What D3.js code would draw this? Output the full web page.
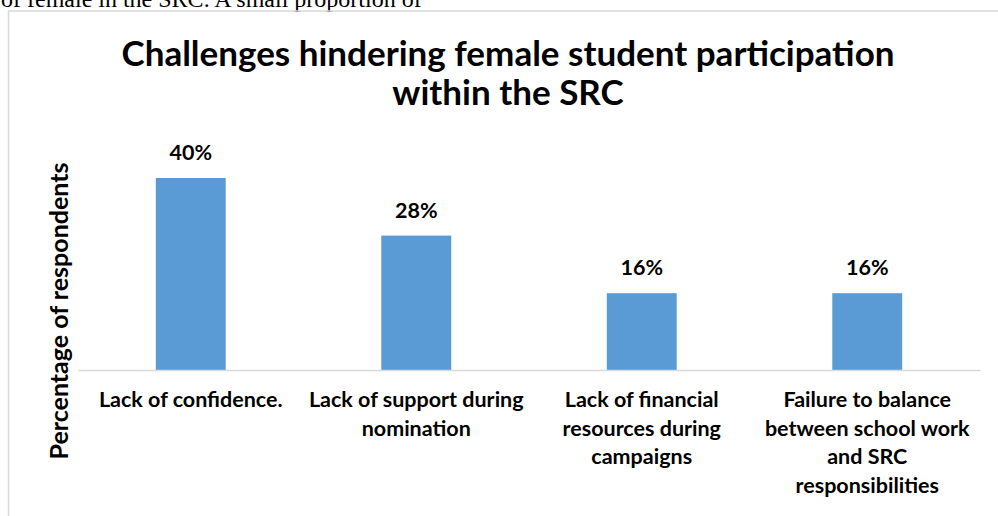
<!DOCTYPE html>
<html>
<head>
<meta charset="utf-8">
<script src="https://cdn.jsdelivr.net/npm/d3@7"></script>
<style>
  html, body { margin: 0; padding: 0; background: #fff; }
  svg { display: block; }
</style>
</head>
<body>
<svg id="chart" width="998" height="516"></svg>
<script>
// Survey results: challenges hindering female participation in the SRC
const categories = [
  "Lack of confidence.",
  "Lack of support during nomination",
  "Lack of financial resources during campaigns",
  "Failure to balance between school work and SRC responsibilities"
];
const categoryLines = [
  ["Lack of confidence."],
  ["Lack of support during", "nomination"],
  ["Lack of financial", "resources during", "campaigns"],
  ["Failure to balance", "between school work", "and SRC", "responsibilities"]
];
const shares = [0.40, 0.28, 0.16, 0.16];
const titleLines = ["Challenges hindering female student participation", "within the SRC"];
const yAxisTitle = "Percentage of respondents";
const bodyText = "of female in the SRC. A small proportion of";

const svg = d3.select("#chart");
const font = "Lato, 'Open Sans', sans-serif";

// running text of the page above the chart frame
svg.append("text")
  .attr("x", 1).attr("y", 7)
  .attr("font-family", "'Liberation Serif', 'Times New Roman', serif")
  .attr("font-size", 24)
  .attr("fill", "#000")
  .text(bodyText);

// chart frame (continues past the right and bottom edges)
svg.append("path")
  .attr("d", "M8.5,520 L8.5,11 L1000,11")
  .attr("fill", "none")
  .attr("stroke", "#d9d9d9")
  .attr("stroke-width", 1.5);

const plot = { left: 78, right: 980, top: 154, bottom: 370 };

const x = d3.scaleBand()
  .domain(categories)
  .range([plot.left, plot.right])
  .paddingInner(0.69)
  .paddingOuter(0.345);

const y = d3.scaleLinear()
  .domain([0, 0.45])
  .range([plot.bottom, plot.top]);

// title
svg.append("g")
  .selectAll("text")
  .data(titleLines)
  .join("text")
  .attr("x", 508)
  .attr("y", (d, i) => 66 + i * 39)
  .attr("text-anchor", "middle")
  .attr("font-family", font)
  .attr("font-weight", "bold")
  .attr("font-size", 35)
  .attr("fill", "#000")
  .text(d => d);

// bars
svg.append("g")
  .selectAll("rect")
  .data(shares)
  .join("rect")
  .attr("x", (d, i) => x(categories[i]))
  .attr("width", x.bandwidth())
  .attr("y", d => y(d))
  .attr("height", d => y(0) - y(d))
  .attr("fill", "#5b9bd5");

// category axis line
const xAxis = d3.axisBottom(x).tickSize(0).tickFormat("");
const gx = svg.append("g")
  .attr("transform", `translate(0,${plot.bottom})`)
  .call(xAxis);
gx.select(".domain").attr("stroke", "#d9d9d9").attr("stroke-width", 1.5);

// category labels (wrapped lines)
const labels = svg.append("g")
  .selectAll("text")
  .data(categories)
  .join("text")
  .attr("text-anchor", "middle")
  .attr("font-family", font)
  .attr("font-weight", "bold")
  .attr("font-size", 21.5)
  .attr("fill", "#000");
labels.each(function(d, i) {
  const cx = x(d) + x.bandwidth() / 2;
  d3.select(this).selectAll("tspan")
    .data(categoryLines[i])
    .join("tspan")
    .attr("x", cx)
    .attr("y", (l, j) => 407 + j * 28.7)
    .text(l => l);
});

// value labels
const pct = d3.format(".0%");
svg.append("g")
  .selectAll("text")
  .data(shares)
  .join("text")
  .attr("x", (d, i) => x(categories[i]) + x.bandwidth() / 2)
  .attr("y", d => y(d) - 18)
  .attr("text-anchor", "middle")
  .attr("font-family", font)
  .attr("font-weight", "bold")
  .attr("font-size", 21.5)
  .attr("fill", "#000")
  .text(d => pct(d));

// value axis title
svg.append("text")
  .attr("transform", "translate(68,311) rotate(-90)")
  .attr("text-anchor", "middle")
  .attr("font-family", font)
  .attr("font-weight", "bold")
  .attr("font-size", 25)
  .attr("fill", "#000")
  .text(yAxisTitle);
</script>
</body>
</html>
